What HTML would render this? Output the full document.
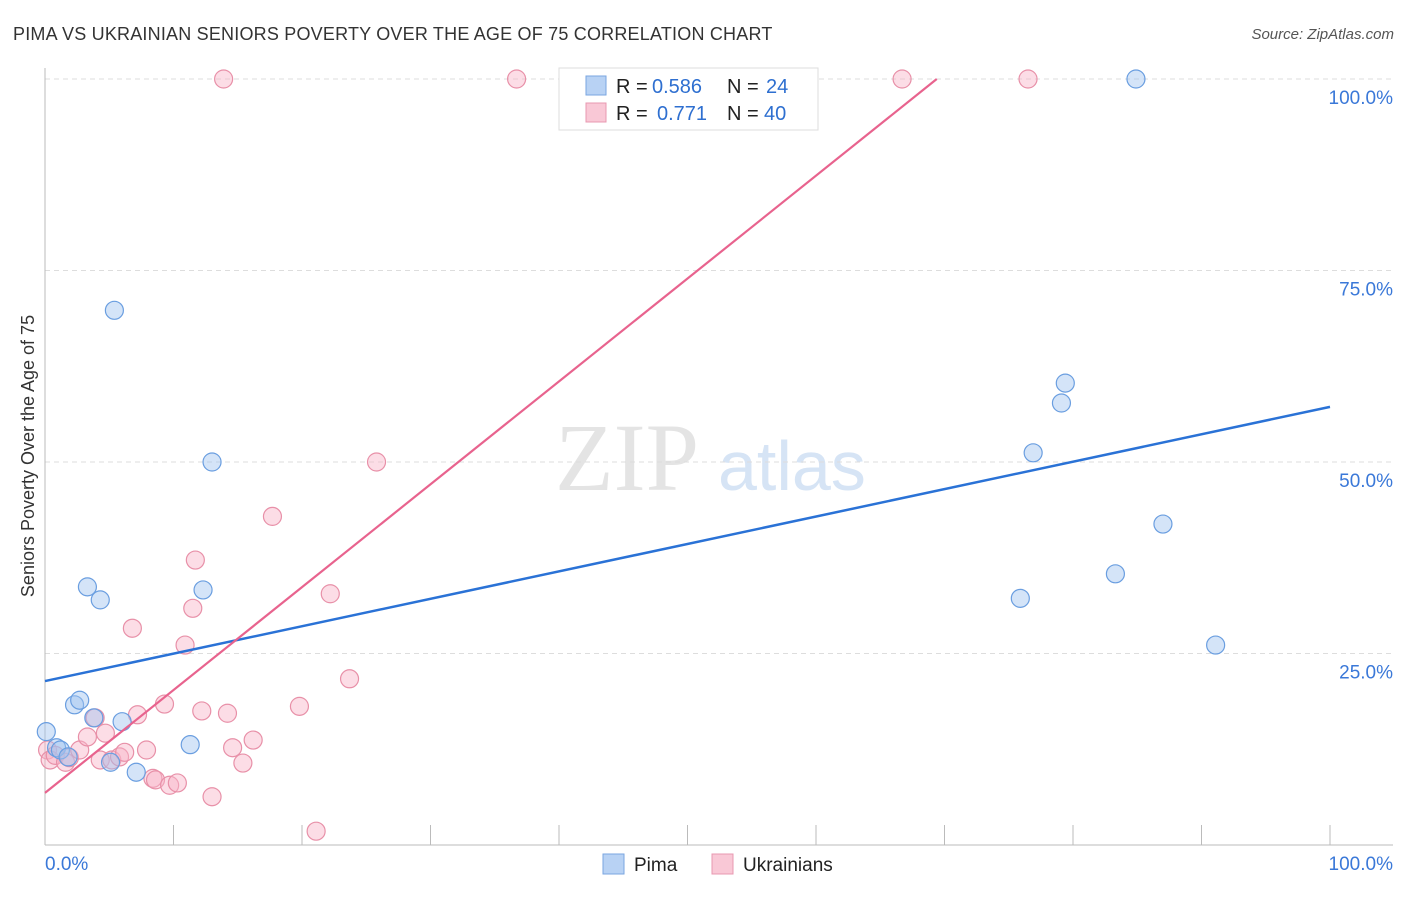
<!DOCTYPE html>
<html><head><meta charset="utf-8"><style>
body{margin:0;background:#fff;font-family:"Liberation Sans",sans-serif;}
</style></head><body>
<svg width="1406" height="892" xmlns="http://www.w3.org/2000/svg" id="svg">
<text x="13" y="40" font-size="18" fill="#333" letter-spacing="0.2">PIMA VS UKRAINIAN SENIORS POVERTY OVER THE AGE OF 75 CORRELATION CHART</text>
<text x="1394" y="39" font-size="15" fill="#555" font-style="italic" text-anchor="end">Source: ZipAtlas.com</text>
<text x="555" y="490" font-size="96" fill="#e4e4e4" font-family="Liberation Serif,serif">ZIP</text>
<text x="718" y="490" font-size="70" fill="#d6e4f5">atlas</text>
<text transform="translate(34,456) rotate(-90)" font-size="18" fill="#333" text-anchor="middle">Seniors Poverty Over the Age of 75</text>
<g id="grid"></g><g id="marks"></g>
<g>
<rect x="559" y="68" width="259" height="62" fill="#fff" stroke="#ddd"/>
<rect x="586" y="76" width="20" height="19" fill="#b8d2f4" stroke="#7aa6e0"/>
<rect x="586" y="103" width="20" height="19" fill="#f9c8d6" stroke="#e898b0"/>
<text x="616" y="93" font-size="20" fill="#222">R =</text>
<text x="652" y="93" font-size="20" fill="#2e6fd0">0.586</text>
<text x="727" y="93" font-size="20" fill="#222">N =</text>
<text x="766" y="93" font-size="20" fill="#2e6fd0">24</text>
<text x="616" y="120" font-size="20" fill="#222">R =</text>
<text x="657" y="120" font-size="20" fill="#2e6fd0">0.771</text>
<text x="727" y="120" font-size="20" fill="#222">N =</text>
<text x="764" y="120" font-size="20" fill="#2e6fd0">40</text>
</g>
<g>
<rect x="603" y="854" width="21" height="20" fill="#b8d2f4" stroke="#7aa6e0"/>
<text x="634" y="871" font-size="19" fill="#222">Pima</text>
<rect x="712" y="854" width="21" height="20" fill="#f9c8d6" stroke="#e898b0"/>
<text x="743" y="871" font-size="19" fill="#222">Ukrainians</text>
</g>
<text x="45" y="870" font-size="19" fill="#3a78d8">0.0%</text>
<text x="1393" y="870" font-size="19" fill="#3a78d8" text-anchor="end">100.0%</text>
</svg>
<script>
const yTicks=[100,75,50,25];
const yTickLabels=["100.0%","75.0%","50.0%","25.0%"];
const pimaX=[0.1,0.9,1.2,1.8,2.3,2.7,3.3,3.8,4.3,5.1,5.4,6.0,7.1,11.3,12.3,13.0,75.9,76.9,79.1,79.4,83.3,84.9,87.0,91.1];
const pimaY=[14.8,12.7,12.4,11.5,18.3,18.9,33.7,16.6,32.0,10.8,69.8,16.1,9.5,13.1,33.3,50.0,32.2,51.2,57.7,60.3,35.4,100,41.9,26.1];
const ukrX=[0.2,0.4,0.8,1.6,1.9,2.7,3.3,3.9,4.3,4.7,5.2,5.8,6.2,6.8,7.2,7.9,8.4,8.6,9.3,9.7,10.3,10.9,11.5,11.7,12.2,13.0,13.9,14.2,14.6,15.4,16.2,17.7,19.8,21.1,22.2,23.7,25.8,36.7,66.7,76.5];
const ukrY=[12.4,11.1,11.7,10.8,11.4,12.4,14.1,16.6,11.1,14.6,11.1,11.5,12.1,28.3,17.0,12.4,8.7,8.5,18.4,7.8,8.1,26.1,30.9,37.2,17.5,6.3,100,17.2,12.7,10.7,13.7,42.9,18.1,1.8,32.8,21.7,50.0,100,100,100];
const pimaLine=[21.4,57.2];
const ukrLine=[6.8,1.343];
const NS='http://www.w3.org/2000/svg';
const sx=v=>45+v*12.85, sy=v=>845-v*7.66;
function mk(t,a,p){const e=document.createElementNS(NS,t);for(const k in a)e.setAttribute(k,a[k]);p.appendChild(e);return e;}
const g=document.getElementById('grid'),m=document.getElementById('marks');
yTicks.forEach((t,i)=>{
 const l=mk('line',{x1:45,x2:1393,y1:sy(t),y2:sy(t),stroke:'#ddd','stroke-dasharray':'5,4'},g);
 
 
 const tx=mk('text',{x:1393,y:sy(t)+25,'font-size':19,fill:'#3a78d8','text-anchor':'end'},g);
 tx.textContent=yTickLabels[i];
 
 
});
mk('line',{x1:45,x2:45,y1:68,y2:845,stroke:'#bbb'},g);
mk('line',{x1:45,x2:1393,y1:845,y2:845,stroke:'#bbb'},g);
for(let k=1;k<=10;k++){const t=mk('line',{x1:sx(k*10),x2:sx(k*10),y1:825,y2:845,stroke:'#bbb'},g);
 
 }
function pts(xs,ys,fill,st,name){xs.forEach((x,i)=>{const c=mk('circle',{cx:sx(x),cy:sy(ys[i]),r:9,fill:fill,stroke:st,'stroke-width':1.2},m);
 
 });}
pts(ukrX,ukrY,'rgba(248,180,200,0.45)','#e890a8','ukrainians-point');
pts(pimaX,pimaY,'rgba(160,196,240,0.45)','#6a9ee0','pima-point');
const bl=mk('line',{x1:sx(0),y1:sy(pimaLine[0]),x2:sx(100),y2:sy(pimaLine[1]),stroke:'#2a72d6','stroke-width':2.5},m);


const xe=(100-ukrLine[0])/ukrLine[1];
const pl=mk('line',{x1:sx(0),y1:sy(ukrLine[0]),x2:sx(xe),y2:sy(100),stroke:'#e8638e','stroke-width':2.2},m);


</script>
</body></html>
